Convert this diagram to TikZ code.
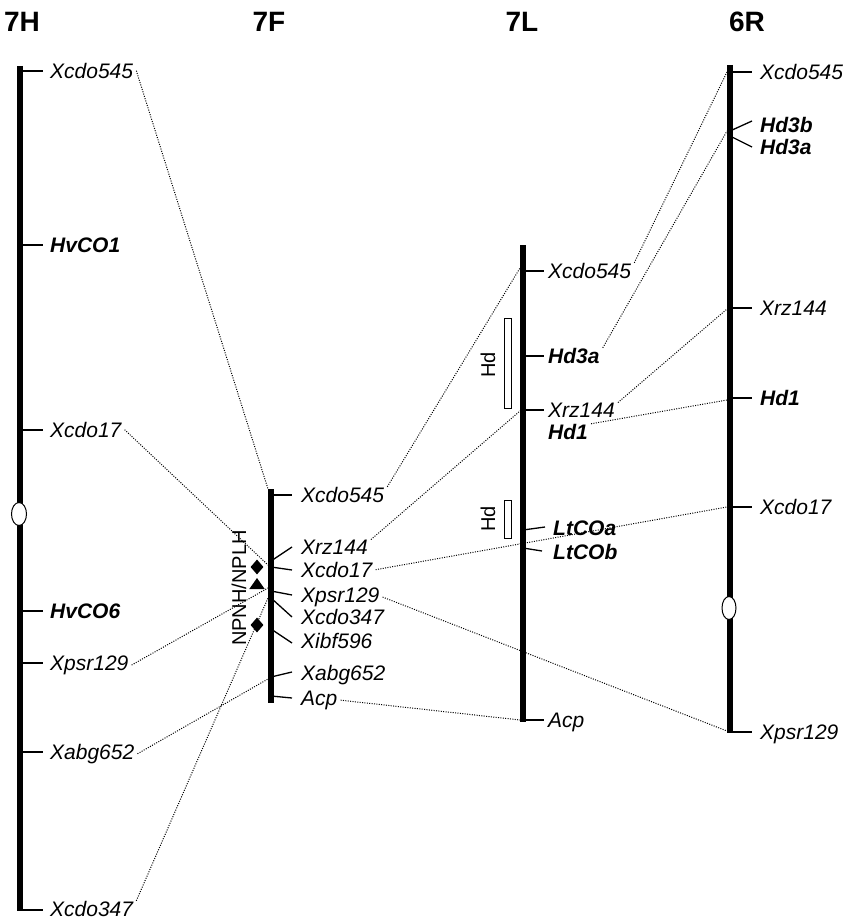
\documentclass[tikz,border=0pt]{standalone}
\usepackage{fontspec}
\setmainfont{Liberation Sans}
\usetikzlibrary{shapes.geometric}
\begin{document}
\begin{tikzpicture}[x=1pt,y=-1pt,
  chrom/.style={line width=6pt},
  tickln/.style={line width=1.3pt},
  mk/.style={anchor=base west, yshift=-7.2pt, font=\fontsize{21}{21}\selectfont\itshape, inner xsep=3pt, inner ysep=0pt},
  mkb/.style={mk, font=\fontsize{21}{21}\selectfont\bfseries\itshape},
  link/.style={line width=1pt, dash pattern=on 1pt off 1.4pt},
  cen/.style={ellipse, draw, fill=white, line width=1pt, minimum width=15pt, minimum height=23pt, inner sep=0pt},
  ttl/.style={font=\fontsize{28}{28}\selectfont\bfseries},
  hdbox/.style={draw, line width=1pt, fill=white},
  hdlab/.style={rotate=90, font=\fontsize{20}{20}\selectfont, inner sep=0pt},
  sym/.style={fill=black, inner sep=0pt},
]
\useasboundingbox (0,0) rectangle (855,920);

% titles
\node[ttl] (t7H) at (22,22) {7H};
\node[ttl] (t7F) at (269,22) {7F};
\node[ttl] (t7L) at (522,22) {7L};
\node[ttl] (t6R) at (747,22) {6R};

% ---------- 7H ----------
\foreach \y in {71,245,430,611,663,752,910} \draw[tickln] (20,\y) -- (43,\y);
\draw[chrom] (20,66) -- (20,911);
\node[cen] (h7cen) at (19,514) {};
\node[mk]  (h545)  at (47,71)  {Xcdo545};
\node[mkb] (hco1)  at (47,245) {HvCO1};
\node[mk]  (h17)   at (47,430) {Xcdo17};
\node[mkb] (hco6)  at (47,611) {HvCO6};
\node[mk]  (h129)  at (47,663) {Xpsr129};
\node[mk]  (h652)  at (47,752) {Xabg652};
\node[mk]  (h347)  at (47,909) {Xcdo347};

% ---------- 7F ----------
\coordinate (f0) at (271,489);
\draw[tickln] (271,495) -- (292,495);
\draw[tickln] (271,561) -- (292,547);
\draw[tickln] (271,567) -- (292,570);
\draw[tickln] (271,591) -- (292,595);
\draw[tickln] (271,598) -- (292,617);
\draw[tickln] (271,629) -- (292,643);
\draw[tickln] (271,677) -- (292,672);
\draw[tickln] (271,696) -- (292,698);
\draw[chrom] (f0) -- (271,703);
\node[mk] (f545) at (298,495) {Xcdo545};
\node[mk] (f144) at (298,547) {Xrz144};
\node[mk] (f17)  at (298,570) {Xcdo17};
\node[mk] (f129) at (298,595) {Xpsr129};
\node[mk] (f347) at (298,617) {Xcdo347};
\node[mk] (f596) at (298,641) {Xibf596};
\node[mk] (f652) at (298,673) {Xabg652};
\node[mk] (facp) at (298,698) {Acp};
\node[sym, diamond, minimum width=13pt, minimum height=15pt] (d1) at (257,567) {};
\node[sym, isosceles triangle, shape border rotate=90, isosceles triangle apex angle=70, minimum height=11pt, minimum width=13pt] (tr1) at (257,585) {};
\node[sym, diamond, minimum width=13pt, minimum height=15pt] (d2) at (257,625) {};
\node[hdlab] (np) at (239,588) {NPNH/NPLH};

% ---------- 7L ----------
\draw[tickln] (523,271) -- (544,271);
\draw[tickln] (523,356) -- (544,356);
\draw[tickln] (523,410) -- (544,410);
\draw[tickln] (523,530) -- (545,527);
\draw[tickln] (523,548) -- (542,551);
\draw[tickln] (523,720) -- (544,720);
\draw[chrom] (523,245) -- (523,722);
\node[mk]  (l545) at (545,271) {Xcdo545};
\node[mkb] (lhd3a) at (545,356) {Hd3a};
\node[mk]  (l144) at (545,410) {Xrz144};
\node[mkb] (lhd1) at (545,432) {Hd1};
\node[mkb] (lcoa) at (550,528) {LtCOa};
\node[mkb] (lcob) at (550,552) {LtCOb};
\node[mk]  (lacp) at (545,720) {Acp};
\node[hdbox, minimum width=7pt, minimum height=90pt, inner sep=0pt] (hdb1) at (507.5,363) {};
\node[hdbox, minimum width=7pt, minimum height=38pt, inner sep=0pt] (hdb2) at (507.5,519) {};
\node[hdlab] (hdl1) at (488,365) {Hd};
\node[hdlab] (hdl2) at (488,519) {Hd};

% ---------- 6R ----------
\draw[tickln] (730,72) -- (752,72);
\draw[tickln] (730,131) -- (752,121);
\draw[tickln] (730,136) -- (752,147);
\draw[tickln] (730,308) -- (752,308);
\draw[tickln] (730,398) -- (752,398);
\draw[tickln] (730,507) -- (752,507);
\draw[tickln] (730,732) -- (752,732);
\draw[chrom] (730,65) -- (730,733);
\node[cen, minimum width=14pt, minimum height=23pt] (r6cen) at (729,608) {};
\node[mk]  (r545) at (757,72)  {Xcdo545};
\node[mkb] (rhd3b) at (757,125) {Hd3b};
\node[mkb] (rhd3a) at (757,147) {Hd3a};
\node[mk]  (r144) at (757,308) {Xrz144};
\node[mkb] (rhd1) at (757,398) {Hd1};
\node[mk]  (r17)  at (757,507) {Xcdo17};
\node[mk]  (r129) at (757,732) {Xpsr129};

% bar points for links
\coordinate (pF0) at (268,489);
\coordinate (pF17) at (268,565);
\coordinate (pF129) at (268,588);
\coordinate (pF652) at (268,679);
\coordinate (pF347) at (268,598);
\coordinate (pL545) at (520,268);
\coordinate (pL144) at (520,411);
\coordinate (pLacp) at (520,720);
\coordinate (pR545) at (727,72);
\coordinate (pRhd3) at (727,131);
\coordinate (pR144) at (727,309);
\coordinate (pRhd1) at (727,400);
\coordinate (pR17) at (727,507);
\coordinate (pR129) at (727,731);

% links
\draw[link] (h545.east) -- (pF0);
\draw[link] (h17.east) -- (pF17);
\draw[link] (h129.east) -- (pF129);
\draw[link] (h652.east) -- (pF652);
\draw[link] (h347.north east) -- (pF347);
\draw[link] (f545.north east) -- (pL545);
\draw[link] (f144.north east) -- (pL144);
\draw[link] (f17.east) -- (pR17);
\draw[link] (f129.east) -- (pR129);
\draw[link] (facp.east) -- (pLacp);
\draw[link] (l545.north east) -- (pR545);
\draw[link] (lhd3a.north east) -- (pRhd3);
\draw[link] (l144.north east) -- (pR144);
\draw[link] (lhd1.north east) -- (pRhd1);
\end{tikzpicture}
\end{document}
